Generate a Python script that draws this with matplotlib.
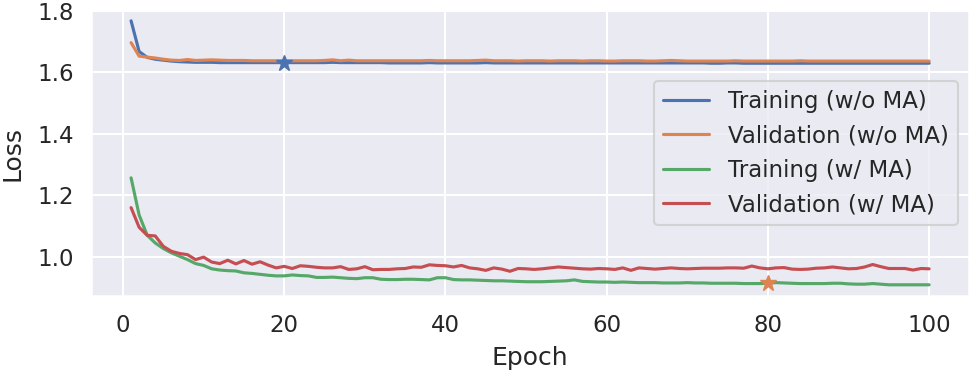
import numpy as np
import matplotlib.pyplot as plt
import seaborn as sns

sns.set_theme(style="darkgrid", context="talk")

epochs = np.arange(1, 101)

# Training / Validation without moving average
train_no_ma = [1.767, 1.667, 1.648, 1.642, 1.639, 1.636, 1.634, 1.633, 1.632, 1.632,
               1.632, 1.631, 1.631, 1.631, 1.631, 1.631, 1.631, 1.631, 1.631, 1.631,
               1.631, 1.631, 1.631, 1.631, 1.631, 1.632, 1.631, 1.631, 1.631, 1.631,
               1.631, 1.631, 1.630, 1.630, 1.630, 1.630, 1.630, 1.631, 1.630, 1.630,
               1.630, 1.630, 1.630, 1.630, 1.631, 1.630, 1.630, 1.630, 1.630, 1.630,
               1.630, 1.630, 1.630, 1.630, 1.630, 1.630, 1.630, 1.630, 1.630, 1.630,
               1.630, 1.630, 1.630, 1.630, 1.630, 1.630, 1.630, 1.630, 1.630, 1.630,
               1.630, 1.630, 1.629, 1.629, 1.630, 1.630, 1.629, 1.629, 1.629, 1.629,
               1.629, 1.629, 1.629, 1.629, 1.629, 1.629, 1.629, 1.629, 1.629, 1.629,
               1.629, 1.629, 1.629, 1.629, 1.629, 1.629, 1.629, 1.629, 1.629, 1.629]
val_no_ma = [1.696, 1.652, 1.649, 1.646, 1.642, 1.639, 1.638, 1.641, 1.638, 1.639,
             1.640, 1.639, 1.638, 1.638, 1.638, 1.637, 1.637, 1.637, 1.637, 1.637,
             1.637, 1.637, 1.637, 1.637, 1.638, 1.640, 1.637, 1.639, 1.637, 1.637,
             1.637, 1.637, 1.637, 1.637, 1.637, 1.637, 1.637, 1.638, 1.637, 1.637,
             1.637, 1.637, 1.637, 1.638, 1.639, 1.637, 1.637, 1.637, 1.636, 1.637,
             1.637, 1.637, 1.636, 1.637, 1.637, 1.637, 1.636, 1.637, 1.637, 1.636,
             1.636, 1.637, 1.637, 1.637, 1.636, 1.636, 1.637, 1.638, 1.637, 1.636,
             1.636, 1.636, 1.636, 1.636, 1.636, 1.637, 1.636, 1.636, 1.636, 1.636,
             1.636, 1.636, 1.636, 1.637, 1.636, 1.636, 1.636, 1.636, 1.636, 1.636,
             1.636, 1.636, 1.636, 1.636, 1.636, 1.636, 1.636, 1.636, 1.636, 1.636]

# Training / Validation with moving average
train_ma = [1.256, 1.135, 1.069, 1.044, 1.026, 1.012, 1.001, 0.990, 0.977, 0.971,
            0.960, 0.956, 0.954, 0.953, 0.947, 0.945, 0.942, 0.939, 0.937, 0.937,
            0.940, 0.938, 0.937, 0.932, 0.932, 0.933, 0.931, 0.929, 0.928, 0.931,
            0.931, 0.926, 0.925, 0.925, 0.926, 0.926, 0.925, 0.924, 0.931, 0.931,
            0.925, 0.924, 0.924, 0.923, 0.922, 0.921, 0.921, 0.920, 0.919, 0.918,
            0.918, 0.918, 0.919, 0.920, 0.921, 0.924, 0.919, 0.918, 0.917, 0.917,
            0.916, 0.917, 0.916, 0.915, 0.915, 0.915, 0.914, 0.914, 0.914, 0.915,
            0.914, 0.914, 0.913, 0.913, 0.913, 0.913, 0.912, 0.912, 0.912, 0.913,
            0.915, 0.914, 0.913, 0.912, 0.912, 0.912, 0.912, 0.913, 0.913, 0.911,
            0.910, 0.910, 0.912, 0.910, 0.908, 0.908, 0.908, 0.908, 0.908, 0.908]
val_ma = [1.159, 1.095, 1.069, 1.067, 1.033, 1.017, 1.010, 1.006, 0.990, 0.998,
          0.982, 0.977, 0.988, 0.976, 0.987, 0.975, 0.983, 0.972, 0.963, 0.968,
          0.961, 0.970, 0.968, 0.965, 0.963, 0.963, 0.967, 0.958, 0.960, 0.967,
          0.957, 0.958, 0.958, 0.960, 0.961, 0.966, 0.965, 0.973, 0.971, 0.970,
          0.966, 0.971, 0.963, 0.960, 0.955, 0.963, 0.959, 0.952, 0.961, 0.960,
          0.958, 0.960, 0.963, 0.966, 0.964, 0.962, 0.960, 0.959, 0.961, 0.960,
          0.958, 0.963, 0.955, 0.963, 0.961, 0.959, 0.961, 0.963, 0.961, 0.960,
          0.961, 0.962, 0.962, 0.962, 0.963, 0.963, 0.962, 0.969, 0.963, 0.960,
          0.963, 0.964, 0.959, 0.958, 0.959, 0.962, 0.963, 0.966, 0.963, 0.960,
          0.961, 0.966, 0.974, 0.967, 0.961, 0.961, 0.961, 0.956, 0.961, 0.960]

# best epochs (stars)
best_no_ma = 20
best_ma = 80

fig, ax = plt.subplots(figsize=(9.7, 3.73), dpi=100)
fig.subplots_adjust(left=0.094, right=0.999, bottom=0.206, top=0.973)

ax.plot(epochs, train_no_ma, label="Training (w/o MA)")
ax.plot(epochs, val_no_ma, label="Validation (w/o MA)")
ax.plot(epochs, train_ma, label="Training (w/ MA)")
ax.plot(epochs, val_ma, label="Validation (w/ MA)")

ax.plot(best_no_ma, train_no_ma[best_no_ma - 1], marker="*", color="C0", markersize=12)
ax.plot(best_ma, train_ma[best_ma - 1], marker="*", color="C1", markersize=12)

ax.set_ylim(0.871, 1.802)
ax.set_xlabel("Epoch", labelpad=7)
ax.set_ylabel("Loss", labelpad=9)
ax.legend(loc="center right")

plt.savefig("out.png", dpi=100)
